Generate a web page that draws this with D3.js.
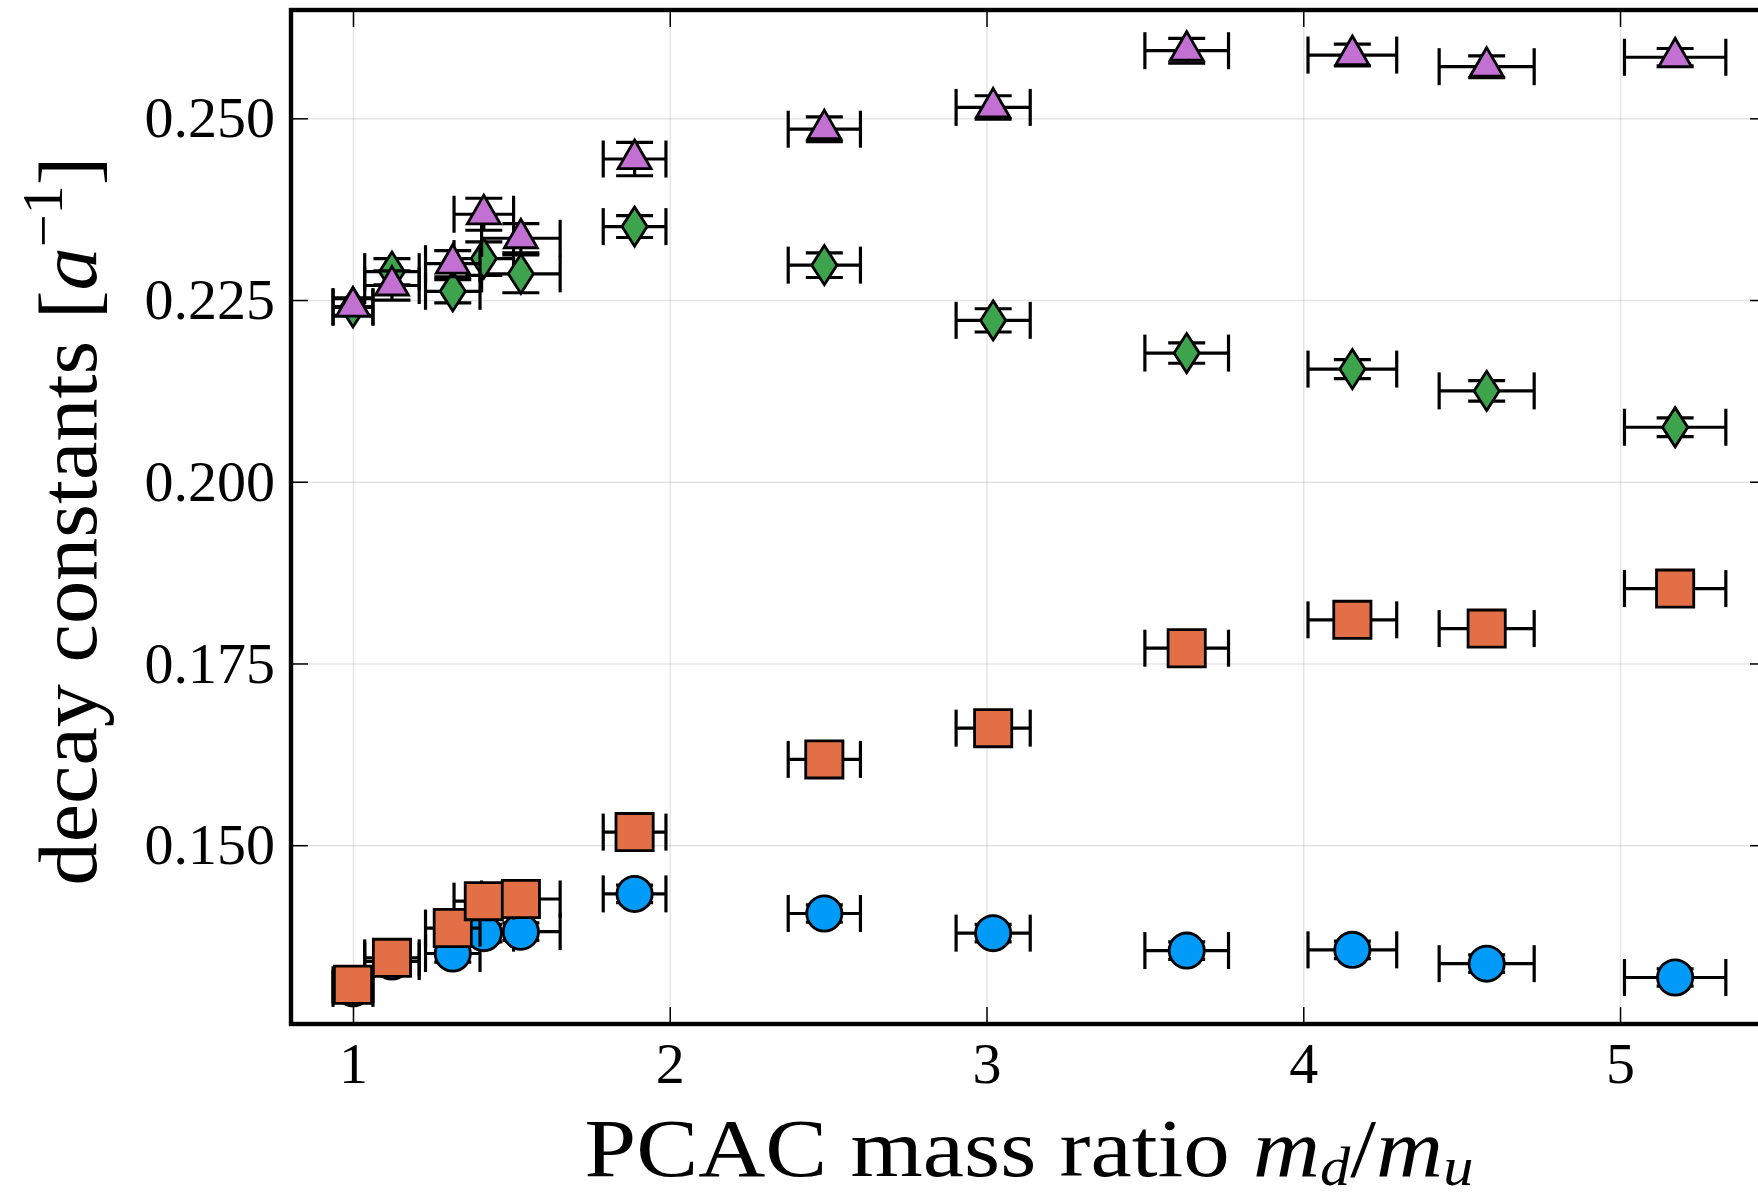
<!DOCTYPE html>
<html>
<head>
<meta charset="utf-8">
<script src="https://cdn.jsdelivr.net/npm/d3@7"></script>
<style>
  html, body { margin: 0; padding: 0; background: #fff; }
  svg { display: block; }
  text { font-family: "Liberation Serif", "Times New Roman", serif; fill: #000; }
</style>
</head>
<body>
<svg id="chart" width="1758" height="1197"></svg>
<script>
// ---------------- data ----------------
const massRatio    = [1.000, 1.123, 1.315, 1.413, 1.530, 1.889, 2.488, 3.021, 3.632, 4.155, 4.579, 5.174];
const massRatioErr = [0.063, 0.086, 0.086, 0.094, 0.124, 0.099, 0.114, 0.117, 0.132, 0.140, 0.150, 0.160];

const circleVals = [0.1303, 0.1340, 0.1351, 0.1379, 0.1381, 0.1433, 0.1406, 0.1379, 0.1355, 0.1356, 0.1337, 0.1318];
const circleErr  = [0.0012, 0.0012, 0.0012, 0.0012, 0.0012, 0.0012, 0.0012, 0.0012, 0.0012, 0.0012, 0.0012, 0.0012];

const squareVals = [0.1308, 0.1345, 0.1386, 0.1423, 0.1426, 0.1518, 0.1618, 0.1661, 0.1771, 0.1810, 0.1798, 0.1853];
const squareErr  = [0.0010, 0.0010, 0.0010, 0.0010, 0.0010, 0.0010, 0.0010, 0.0010, 0.0010, 0.0010, 0.0010, 0.0010];

const diamondVals = [0.2240, 0.2289, 0.2262, 0.2307, 0.2286, 0.2351, 0.2298, 0.2222, 0.2177, 0.2155, 0.2125, 0.2075];
const diamondErr  = [0.0012, 0.0018, 0.0016, 0.0023, 0.0026, 0.0015, 0.0017, 0.0016, 0.0014, 0.0013, 0.0014, 0.0013];

const triangleVals = [0.2241, 0.2270, 0.2300, 0.2368, 0.2335, 0.2444, 0.2485, 0.2515, 0.2593, 0.2587, 0.2571, 0.2584];
const triangleErr  = [0.0012, 0.0020, 0.0018, 0.0022, 0.0020, 0.0023, 0.0017, 0.0016, 0.0017, 0.0015, 0.0015, 0.0012];

const xTickValues = [1, 2, 3, 4, 5];
const xTickLabels = ["1", "2", "3", "4", "5"];
const yTickValues = [0.150, 0.175, 0.200, 0.225, 0.250];
const yTickLabels = ["0.150", "0.175", "0.200", "0.225", "0.250"];

const seriesNames  = ["circle", "square", "diamond", "triangle"];
const seriesColors = ["#009AF9", "#E26F46", "#3DA44D", "#C271D2"];

// ---------------- layout ----------------
const svg = d3.select("#chart");
const pL = 291, pR = 1767, pT = 10, pB = 1024;
const x = d3.scaleLinear().domain([0.8043, 5.464]).range([pL, pR]);
const y = d3.scaleLinear().domain([0.1254, 0.2649]).range([pB, pT]);
const tickLen = 17;

// grid
const grid = svg.append("g");
grid.append("g").attr("transform", `translate(0,${pB})`)
  .call(d3.axisBottom(x).tickValues(xTickValues).tickSize(-(pB - pT)).tickFormat(""))
  .call(g => { g.select(".domain").remove(); g.selectAll("line").attr("stroke", "rgba(0,0,0,0.1)").attr("stroke-width", 1.5); });
grid.append("g").attr("transform", `translate(${pL},0)`)
  .call(d3.axisLeft(y).tickValues(yTickValues).tickSize(-(pR - pL)).tickFormat(""))
  .call(g => { g.select(".domain").remove(); g.selectAll("line").attr("stroke", "rgba(0,0,0,0.1)").attr("stroke-width", 1.5); });

// ---------------- series ----------------
const series = [
  { name: "circle",   vals: circleVals,   errs: circleErr },
  { name: "square",   vals: squareVals,   errs: squareErr },
  { name: "diamond",  vals: diamondVals,  errs: diamondErr },
  { name: "triangle", vals: triangleVals, errs: triangleErr }
];

function markerPath(kind) {
  switch (kind) {
    case "circle": { const r = 17.6; return `M${-r},0A${r},${r} 0 1,0 ${r},0A${r},${r} 0 1,0 ${-r},0Z`; }
    case "square": { const h = 18.6; return `M${-h},${-h}H${h}V${h}H${-h}Z`; }
    case "diamond": { const w = 12.6, hh = 19.6; return `M0,${-hh}L${w},0L0,${hh}L${-w},0Z`; }
    case "triangle": {
      const s = 33, hgt = s * Math.sqrt(3) / 2;
      return `M0,${-2 * hgt / 3}L${s / 2},${hgt / 3}L${-s / 2},${hgt / 3}Z`;
    }
  }
}

const capHalf = 18.5;
const plot = svg.append("g");
series.forEach((s, si) => {
  const pts = massRatio.map((mx, i) => ({ x: mx, xe: massRatioErr[i], y: s.vals[i], ye: s.errs[i] }));
  const eb = plot.append("g").attr("stroke", "#000").attr("stroke-width", 3.2).attr("fill", "none");
  pts.forEach(p => {
    const cx = x(p.x), cy = y(p.y);
    const x0 = x(p.x - p.xe), x1 = x(p.x + p.xe);
    const y0 = y(p.y - p.ye), y1 = y(p.y + p.ye);
    eb.append("line").attr("x1", x0).attr("x2", x1).attr("y1", cy).attr("y2", cy);
    eb.append("line").attr("x1", x0).attr("x2", x0).attr("y1", cy - capHalf).attr("y2", cy + capHalf);
    eb.append("line").attr("x1", x1).attr("x2", x1).attr("y1", cy - capHalf).attr("y2", cy + capHalf);
    eb.append("line").attr("x1", cx).attr("x2", cx).attr("y1", y0).attr("y2", y1);
    eb.append("line").attr("x1", cx - capHalf).attr("x2", cx + capHalf).attr("y1", y0).attr("y2", y0);
    eb.append("line").attr("x1", cx - capHalf).attr("x2", cx + capHalf).attr("y1", y1).attr("y2", y1);
  });
  plot.append("g").selectAll("path").data(pts).join("path")
    .attr("d", markerPath(s.name))
    .attr("transform", d => `translate(${x(d.x)},${y(d.y)})`)
    .attr("fill", seriesColors[si])
    .attr("stroke", "#000")
    .attr("stroke-width", 2.8)
    .attr("stroke-linejoin", "miter");
});

// ---------------- axes (inward ticks, mirrored) ----------------
function styleAxis(g) {
  g.select(".domain").remove();
  g.selectAll(".tick line").attr("stroke", "#000").attr("stroke-width", 1.5);
  g.selectAll(".tick text").style("font-family", '"Liberation Serif", serif').style("font-size", "58px").attr("fill", "#000");
}
svg.append("g").attr("transform", `translate(0,${pB})`)
  .call(d3.axisBottom(x).tickValues(xTickValues).tickFormat((d, i) => xTickLabels[i]).tickSize(-tickLen).tickPadding(18))
  .call(styleAxis)
  .call(g => g.selectAll(".tick text").attr("dy", "0.71em"));
svg.append("g").attr("transform", `translate(${pL},0)`)
  .call(d3.axisLeft(y).tickValues(yTickValues).tickFormat((d, i) => yTickLabels[i]).tickSize(-tickLen).tickPadding(16))
  .call(styleAxis);
svg.append("g").attr("transform", `translate(0,${pT})`)
  .call(d3.axisTop(x).tickValues(xTickValues).tickFormat("").tickSize(-tickLen))
  .call(styleAxis);
svg.append("g").attr("transform", `translate(${pR},0)`)
  .call(d3.axisRight(y).tickValues(yTickValues).tickFormat("").tickSize(-tickLen))
  .call(styleAxis);

// frame
svg.append("rect").attr("x", pL).attr("y", pT).attr("width", pR - pL).attr("height", pB - pT)
  .attr("fill", "none").attr("stroke", "#000").attr("stroke-width", 4.4);

// ---------------- axis titles ----------------
// Titles are stretched horizontally to the width of the wider math typeface of the original.
function stretchTo(t, target) {
  const w = t.node().getComputedTextLength();
  return target / w;
}

const xlG = svg.append("g");
const xl = xlG.append("text").attr("x", 0).attr("y", 0)
  .attr("text-anchor", "middle").style("font-size", "83px");
xl.append("tspan").text("PCAC mass ratio ");
xl.append("tspan").attr("font-style", "italic").text("m");
xl.append("tspan").attr("font-style", "italic").style("font-size", "54px").attr("dy", "9").text("d");
xl.append("tspan").attr("dy", "-9").text("/");
xl.append("tspan").attr("font-style", "italic").text("m");
xl.append("tspan").attr("font-style", "italic").style("font-size", "54px").attr("dy", "9").text("u");
const sxX = stretchTo(xl, 889);
xlG.attr("transform", `translate(${(pL + pR) / 2},1176) scale(${sxX},1)`);

const ylG = svg.append("g");
const yl = ylG.append("text").attr("x", 0).attr("y", 0)
  .attr("text-anchor", "middle").style("font-size", "83px");
yl.append("tspan").text("decay constants [");
yl.append("tspan").attr("font-style", "italic").text("a");
yl.append("tspan").style("font-size", "56px").attr("dy", "-34").text("\u22121");
yl.append("tspan").attr("dy", "34").text("]");
const sxY = stretchTo(yl, 729);
ylG.attr("transform", `translate(96,${(pT + pB) / 2 + 4}) rotate(-90) scale(${sxY},1)`);
</script>
</body>
</html>
